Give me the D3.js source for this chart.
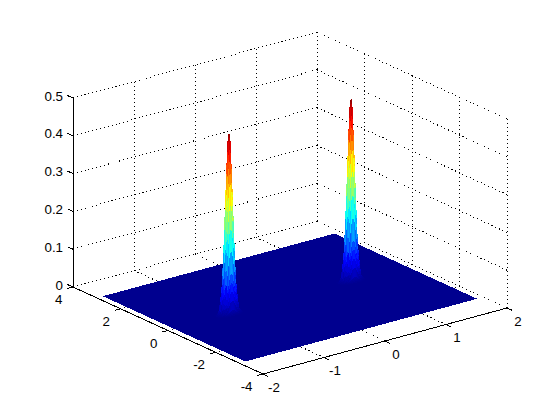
<!DOCTYPE html>
<html>
<head>
<meta charset="utf-8">
<script src="https://cdn.jsdelivr.net/npm/d3@7"></script>
<style>
body { margin: 0; background: #fff; }
text { font-family: "Liberation Sans", Arial, sans-serif; font-size: 13.33px; fill: #000; }
</style>
</head>
<body>
<svg width="560" height="420"></svg>
<script>
const xTicks = [-2, -1, 0, 1, 2]
const yTicks = [-4, -2, 0, 2, 4]
const zTicks = [0, 0.1, 0.2, 0.3, 0.4, 0.5]

// extent of the flat sheet
const sheetX = [-1.9, 1.9]
const sheetY = [-3, 3]

// the two spikes
const peakCentersX = [1, -1]
const peakOffsets = [-0.2, -0.15, -0.1, -0.05, -0.02, 0, 0.02, 0.05, 0.1, 0.15, 0.2]
const rightPeak = [
    [0, 0, 0, 0.001, 0.001, 0.001, 0.001, 0.001, 0, 0, 0],
    [0, 0, 0.003, 0.01, 0.014, 0.015, 0.014, 0.01, 0.003, 0, 0],
    [0, 0.003, 0.024, 0.075, 0.105, 0.11, 0.105, 0.075, 0.024, 0.003, 0],
    [0.001, 0.01, 0.075, 0.26, 0.33, 0.35, 0.33, 0.26, 0.075, 0.01, 0.001],
    [0.001, 0.014, 0.105, 0.33, 0.455, 0.47, 0.455, 0.33, 0.105, 0.014, 0.001],
    [0.001, 0.015, 0.11, 0.35, 0.47, 0.487, 0.47, 0.35, 0.11, 0.015, 0.001],
    [0.001, 0.014, 0.105, 0.33, 0.455, 0.47, 0.455, 0.33, 0.105, 0.014, 0.001],
    [0.001, 0.01, 0.075, 0.26, 0.33, 0.35, 0.33, 0.26, 0.075, 0.01, 0.001],
    [0, 0.003, 0.024, 0.075, 0.105, 0.11, 0.105, 0.075, 0.024, 0.003, 0],
    [0, 0, 0.003, 0.01, 0.014, 0.015, 0.014, 0.01, 0.003, 0, 0],
    [0, 0, 0, 0.001, 0.001, 0.001, 0.001, 0.001, 0, 0, 0]
]
const leftPeak = [
    [0, 0, 0, 0.001, 0.001, 0.001, 0.001, 0.001, 0, 0, 0],
    [0, 0, 0.003, 0.01, 0.014, 0.015, 0.014, 0.01, 0.003, 0, 0],
    [0, 0.003, 0.024, 0.075, 0.104, 0.109, 0.104, 0.075, 0.024, 0.003, 0],
    [0.001, 0.01, 0.075, 0.258, 0.328, 0.348, 0.328, 0.258, 0.075, 0.01, 0.001],
    [0.001, 0.014, 0.104, 0.328, 0.452, 0.467, 0.452, 0.328, 0.104, 0.014, 0.001],
    [0.001, 0.015, 0.109, 0.348, 0.467, 0.484, 0.467, 0.348, 0.109, 0.015, 0.001],
    [0.001, 0.014, 0.104, 0.328, 0.452, 0.467, 0.452, 0.328, 0.104, 0.014, 0.001],
    [0.001, 0.01, 0.075, 0.258, 0.328, 0.348, 0.328, 0.258, 0.075, 0.01, 0.001],
    [0, 0.003, 0.024, 0.075, 0.104, 0.109, 0.104, 0.075, 0.024, 0.003, 0],
    [0, 0, 0.003, 0.01, 0.014, 0.015, 0.014, 0.01, 0.003, 0, 0],
    [0, 0, 0, 0.001, 0.001, 0.001, 0.001, 0.001, 0, 0, 0]
]

const ORIGIN_X = 263
const ORIGIN_Y = 374
const SUBDIV = 4
const TICK_LEN = 5.5

// oblique projection, each data axis adds its own screen offset
const xToLeft = d3.scaleLinear().domain([-2, 2]).range([0, 244])
const xToTop = d3.scaleLinear().domain([-2, 2]).range([0, -66])
const yToLeft = d3.scaleLinear().domain([-4, 4]).range([0, -190])
const yToTop = d3.scaleLinear().domain([-4, 4]).range([0, -87])
const zToTop = d3.scaleLinear().domain([0, 0.5]).range([0, -189])

// jet colormap over the range of the surface
const zMax = d3.max(rightPeak.flat())
const jet = d3.scaleLinear()
    .domain([0, 0.125, 0.375, 0.625, 0.875, 1].map(d => d * zMax))
    .range(["#00008f", "#0000ff", "#00ffff", "#ffff00", "#ff0000", "#800000"])
    .clamp(true)

function project(x, y, z) {
    return [
        ORIGIN_X + xToLeft(x) + yToLeft(y),
        ORIGIN_Y + xToTop(x) + yToTop(y) + zToTop(z)
    ]
}

const svg = d3.select("svg")

function line3d(parent, a, b) {
    const p = project(a[0], a[1], a[2])
    const q = project(b[0], b[1], b[2])
    return parent.append("line")
        .attr("x1", p[0]).attr("y1", p[1])
        .attr("x2", q[0]).attr("y2", q[1])
        .attr("stroke", "#000")
        .attr("stroke-width", 1)
        .attr("shape-rendering", "crispEdges")
}

/////// grid

const grid = svg.append("g").attr("stroke-dasharray", "1 3")
const xMin = xTicks[0], xMax = xTicks[xTicks.length - 1]
const yMin = yTicks[0], yMax = yTicks[yTicks.length - 1]
const zTop = zTicks[zTicks.length - 1]

xTicks.forEach(x => {
    line3d(grid, [x, yMin, 0], [x, yMax, 0])
    line3d(grid, [x, yMax, 0], [x, yMax, zTop])
})
yTicks.forEach(y => {
    line3d(grid, [xMin, y, 0], [xMax, y, 0])
    line3d(grid, [xMax, y, 0], [xMax, y, zTop])
})
zTicks.forEach(z => {
    line3d(grid, [xMin, yMax, z], [xMax, yMax, z])
    line3d(grid, [xMax, yMax, z], [xMax, yMin, z])
})

/////// surface

svg.append("polygon")
    .attr("points", [
        project(sheetX[0], sheetY[0], 0),
        project(sheetX[1], sheetY[0], 0),
        project(sheetX[1], sheetY[1], 0),
        project(sheetX[0], sheetY[1], 0)
    ].join(" "))
    .attr("fill", jet(0))
    .attr("shape-rendering", "crispEdges")

function peakFacets(centerX, table) {
    const facets = []
    const n = peakOffsets.length - 1
    const sample = (u, v) => {
        const i = Math.min(Math.floor(u), n - 1), j = Math.min(Math.floor(v), n - 1)
        const fu = u - i, fv = v - j
        const z = d3.interpolate(
            d3.interpolate(table[i][j], table[i + 1][j])(fu),
            d3.interpolate(table[i][j + 1], table[i + 1][j + 1])(fu)
        )(fv)
        const x = centerX + d3.interpolate(peakOffsets[i], peakOffsets[i + 1])(fu)
        const y = d3.interpolate(peakOffsets[j], peakOffsets[j + 1])(fv)
        return { x, y, z }
    }
    // far corner first so the near facets paint over
    for (let a = n * SUBDIV - 1; a >= 0; a--) {
        for (let b = n * SUBDIV - 1; b >= 0; b--) {
            const corners = [
                sample(a / SUBDIV, b / SUBDIV),
                sample((a + 1) / SUBDIV, b / SUBDIV),
                sample((a + 1) / SUBDIV, (b + 1) / SUBDIV),
                sample(a / SUBDIV, (b + 1) / SUBDIV)
            ]
            facets.push({
                points: corners.map(c => project(c.x, c.y, c.z)).join(" "),
                z: d3.mean(corners, c => c.z)
            })
        }
    }
    return facets
}

;[rightPeak, leftPeak].forEach((table, i) => {
    svg.append("g")
        .attr("shape-rendering", "crispEdges")
        .selectAll("polygon")
        .data(peakFacets(peakCentersX[i], table))
        .join("polygon")
        .attr("points", d => d.points)
        .attr("fill", d => jet(d.z))
})

/////// axes

const axes = svg.append("g")
line3d(axes, [xMin, yMax, 0], [xMin, yMax, zTop])
line3d(axes, [xMin, yMax, 0], [xMin, yMin, 0])
line3d(axes, [xMin, yMin, 0], [xMax, yMin, 0])

function tick(p, dx, dy) {
    axes.append("line")
        .attr("x1", p[0]).attr("y1", p[1])
        .attr("x2", p[0] + dx).attr("y2", p[1] + dy)
        .attr("stroke", "#000")
        .attr("shape-rendering", "crispEdges")
}

function label(p, dx, dy, txt, anchor) {
    axes.append("text")
        .attr("x", p[0] + dx)
        .attr("y", p[1] + dy)
        .attr("text-anchor", anchor)
        .attr("dominant-baseline", "central")
        .text(txt)
}

zTicks.forEach(z => {
    const p = project(xMin, yMax, z)
    tick(p, -TICK_LEN, -2.5)
    label(p, -10, -2, z, "end")
})
yTicks.forEach(y => {
    const p = project(xMin, y, 0)
    tick(p, -TICK_LEN, 1.5)
    label(p, -10.5, 12.5, y, "end")
})
xTicks.forEach(x => {
    const p = project(x, yMin, 0)
    tick(p, TICK_LEN * 0.9, TICK_LEN * 0.41)
    label(p, 11, 13, x, "middle")
})
</script>
</body>
</html>
